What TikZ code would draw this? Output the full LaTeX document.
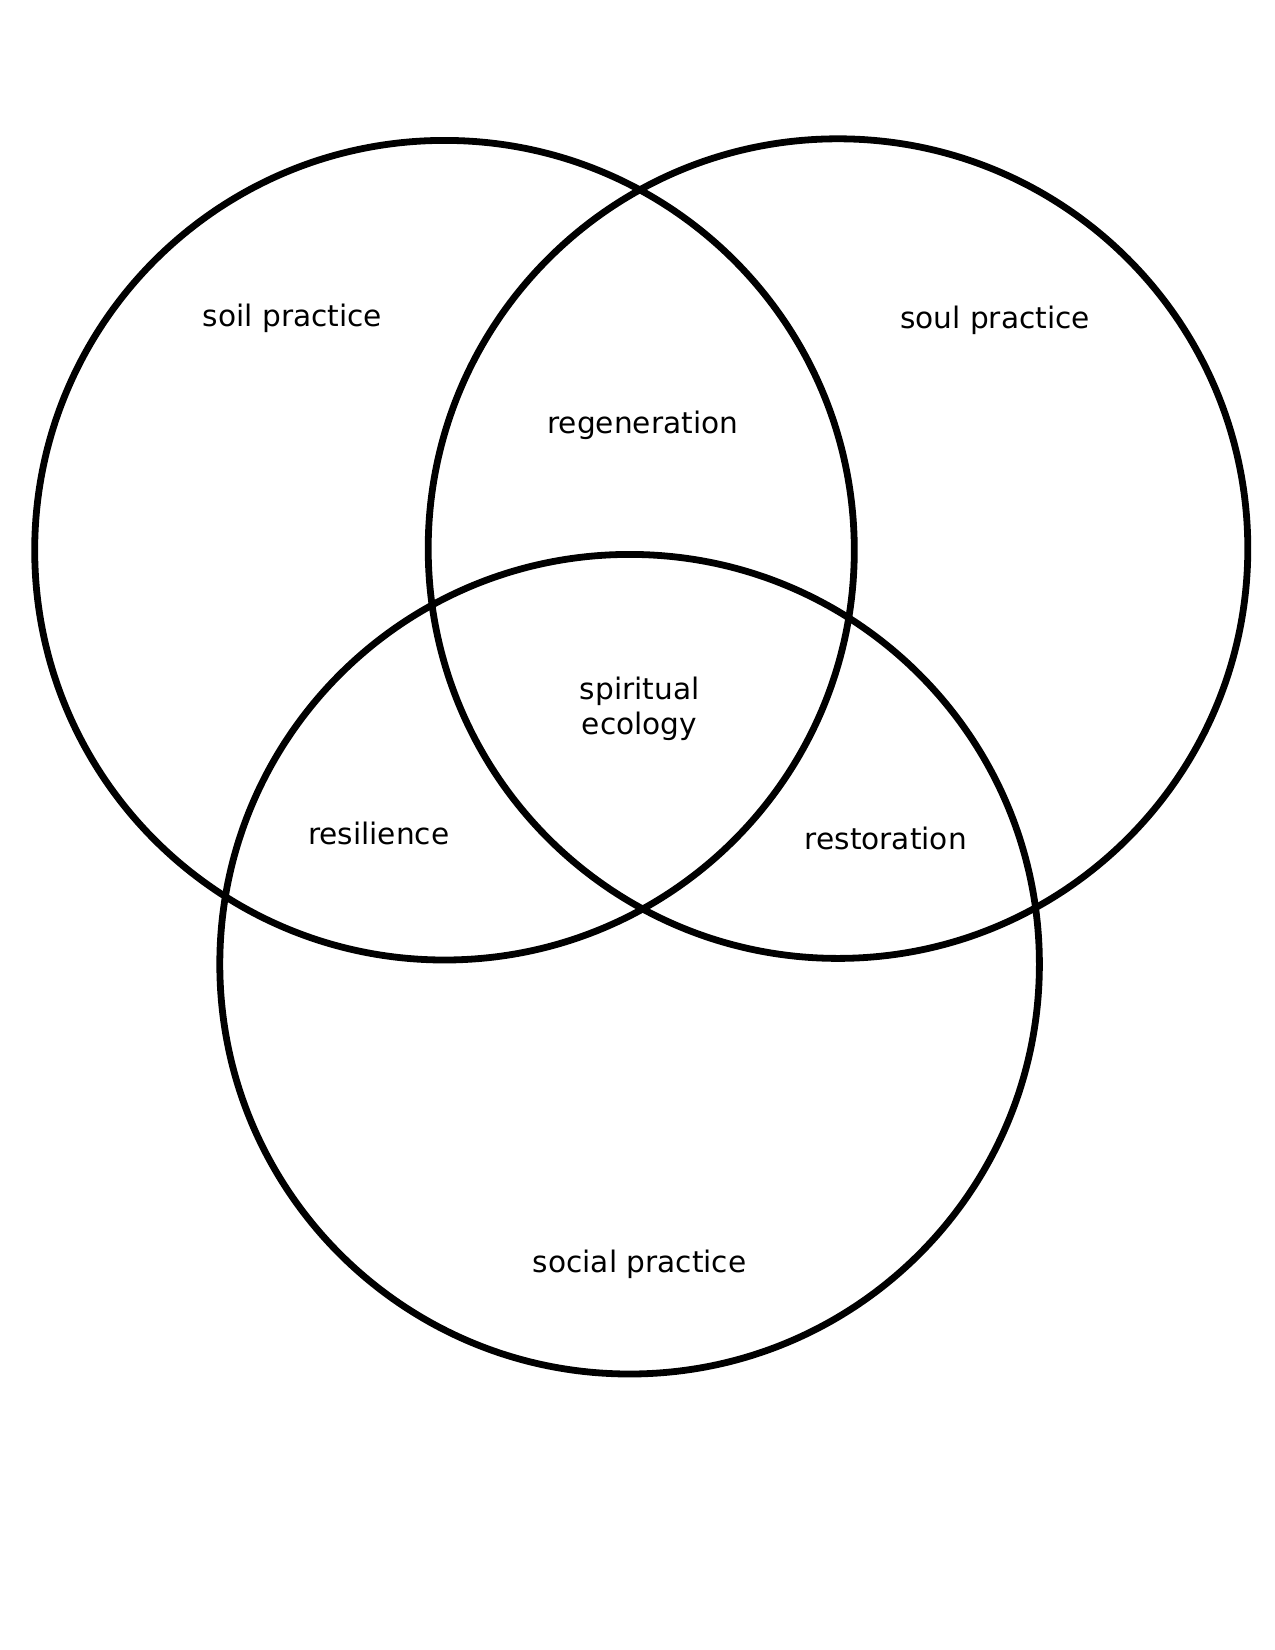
\documentclass[tikz,border=0pt]{standalone}
\usepackage{fontspec}
\setmainfont{DejaVu Sans}
\begin{document}
\begin{tikzpicture}[x=1pt,y=-1pt,
  venn/.style={circle,draw=black,line width=6.8pt,minimum size=819.6pt,inner sep=0pt},
  lbl/.style={font=\fontsize{29.6}{35}\selectfont,align=center,inner sep=0pt}]
\useasboundingbox (0,0) rectangle (1275,1650);
\fill[white] (0,0) rectangle (1275,1650);
\node[venn] (soilc) at (444.5,550.2) {};
\node[venn] (soulc) at (838,548.6) {};
\node[venn] (socialc) at (629.6,964.2) {};
\node[lbl] (soil) at (292.5,318.6) {soil practice};
\node[lbl] (soul) at (995,320.7) {soul practice};
\node[lbl] (regen) at (642.8,424.9) {regeneration};
\node[lbl] (spirit) at (639.6,708.5) {spiritual\\ecology};
\node[lbl] (resil) at (378.7,833) {resilience};
\node[lbl] (resto) at (885.8,838.4) {restoration};
\node[lbl] (social) at (639.6,1264.4) {social practice};
\end{tikzpicture}
\end{document}
